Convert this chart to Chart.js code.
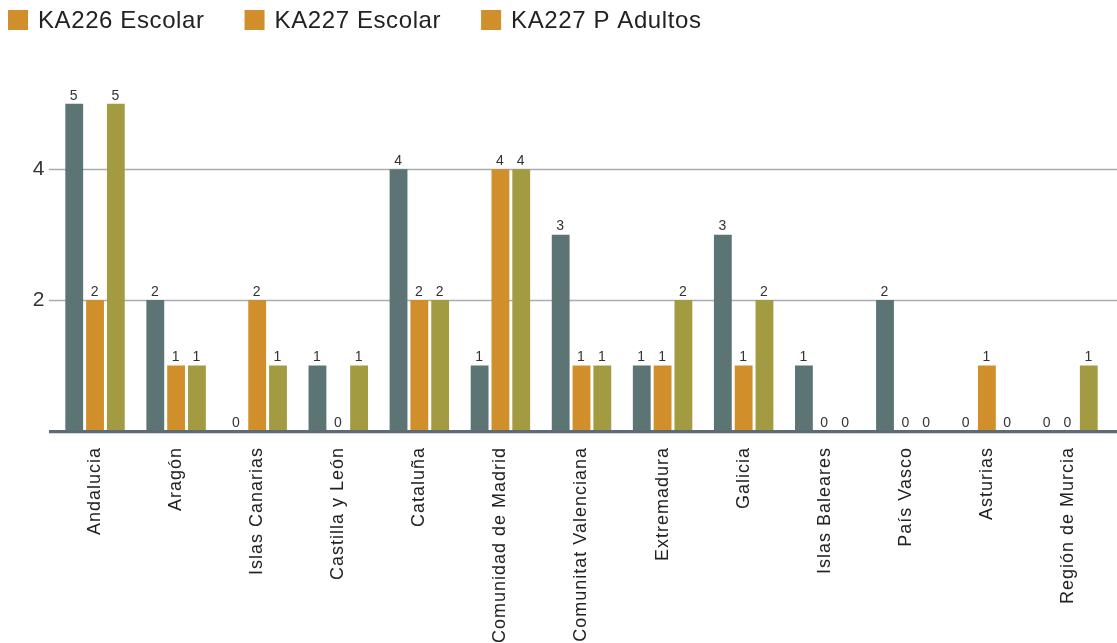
<!DOCTYPE html>
<html>
<head>
<meta charset="utf-8">
<script src="https://cdn.jsdelivr.net/npm/chart.js@4/dist/chart.umd.min.js"></script>
<style>
  html, body { margin: 0; padding: 0; background: #fff; }
  #wrap { width: 1117px; height: 643px; position: relative; }
</style>
</head>
<body>
<div id="wrap"><canvas id="chart"></canvas></div>
<script>
// Data
const regions = ['Andalucia', 'Aragón', 'Islas Canarias', 'Castilla y León', 'Cataluña',
    'Comunidad de Madrid', 'Comunitat Valenciana', 'Extremadura', 'Galicia',
    'Islas Baleares', 'País Vasco', 'Asturias', 'Región de Murcia'];
const ka226Escolar = [5, 2, 0, 1, 4, 1, 3, 1, 3, 1, 2, 0, 0];
const ka227Escolar = [2, 1, 2, 0, 2, 4, 1, 1, 1, 0, 0, 1, 0];
const ka227Adultos = [5, 1, 1, 1, 2, 4, 1, 2, 2, 0, 0, 0, 1];
const gridValues = [2, 4];

const FONT = "'Liberation Sans', Arial, sans-serif";

// the reference text is a bit wider than Liberation Sans, so space it out
const spacing = {
    id: 'spacing',
    beforeUpdate(chart) { chart.ctx.letterSpacing = '1px'; },
    beforeDraw(chart) { chart.ctx.letterSpacing = '1px'; }
};

// grid lines + baseline drawn across the full width
const gridPlugin = {
    id: 'wideGrid',
    beforeDatasetsDraw(chart) {
        const { ctx, scales: { y } } = chart;
        ctx.save();
        ctx.strokeStyle = '#a9acb1';
        ctx.lineWidth = 1.5;
        gridValues.forEach(v => {
            const py = Math.round(y.getPixelForValue(v)) + 0.5;
            ctx.beginPath();
            ctx.moveTo(49, py);
            ctx.lineTo(chart.width, py);
            ctx.stroke();
        });
        ctx.restore();
    },
    afterDatasetsDraw(chart) {
        const { ctx, scales: { y } } = chart;
        const py = y.getPixelForValue(0);
        ctx.save();
        ctx.fillStyle = '#5e6b74';
        ctx.fillRect(49, py - 1, chart.width - 49, 3);
        ctx.fillStyle = '#d5d9dd';
        ctx.fillRect(49, py + 2, chart.width - 49, 1);
        ctx.restore();
    }
};

// value labels above each bar
const valueLabels = {
    id: 'valueLabels',
    afterDatasetsDraw(chart) {
        const { ctx } = chart;
        ctx.save();
        ctx.font = '14px ' + FONT;
        ctx.fillStyle = '#333';
        ctx.textAlign = 'center';
        ctx.textBaseline = 'bottom';
        chart.data.datasets.forEach((ds, i) => {
            chart.getDatasetMeta(i).data.forEach((bar, j) => {
                ctx.fillText(ds.data[j], bar.x, bar.y - 1);
            });
        });
        ctx.restore();
    }
};

// legend in the top-left corner (all swatches share the orange, as in the source)
const topLegend = {
    id: 'topLegend',
    afterDraw(chart) {
        const { ctx } = chart;
        ctx.save();
        ctx.letterSpacing = '0.6px';
        ctx.font = '24px ' + FONT;
        ctx.textBaseline = 'middle';
        ctx.textAlign = 'left';
        let x = 8;
        chart.data.datasets.forEach(ds => {
            ctx.fillStyle = '#d08f2a';
            ctx.fillRect(x, 10, 20, 20);
            x += 30;
            ctx.fillStyle = '#222';
            ctx.fillText(ds.label, x, 21);
            x += ctx.measureText(ds.label).width + 40;
        });
        ctx.restore();
    }
};

new Chart(document.getElementById('chart'), {
    type: 'bar',
    data: {
        labels: regions,
        datasets: [
            { label: 'KA226 Escolar', data: ka226Escolar, backgroundColor: '#5c7574' },
            { label: 'KA227 Escolar', data: ka227Escolar, backgroundColor: '#d08f2a' },
            { label: 'KA227 P Adultos', data: ka227Adultos, backgroundColor: '#a39b41' }
        ]
    },
    options: {
        responsive: true,
        maintainAspectRatio: false,
        animation: false,
        layout: { padding: { left: 0, right: 8.5, top: 71, bottom: 0 } },
        datasets: {
            bar: { categoryPercentage: 0.77, barPercentage: 0.857 }
        },
        plugins: {
            tooltip: { enabled: false },
            legend: { display: false }
        },
        scales: {
            x: {
                grid: { display: false, drawTicks: false },
                border: { display: false },
                ticks: {
                    minRotation: 90,
                    maxRotation: 90,
                    autoSkip: false,
                    padding: 16,
                    color: '#222',
                    font: { family: FONT, size: 18 }
                },
                afterFit(scale) { scale.height = 212; }
            },
            y: {
                min: 0,
                max: 5.5,
                grid: { display: false, drawTicks: false },
                border: { display: false },
                ticks: {
                    stepSize: 2,
                    padding: 9,
                    color: '#333',
                    font: { family: FONT, size: 21 },
                    callback: v => (gridValues.includes(v) ? v : '')
                },
                afterFit(scale) { scale.width = 54.5; }
            }
        }
    },
    plugins: [spacing, gridPlugin, valueLabels, topLegend]
});
</script>
</body>
</html>
